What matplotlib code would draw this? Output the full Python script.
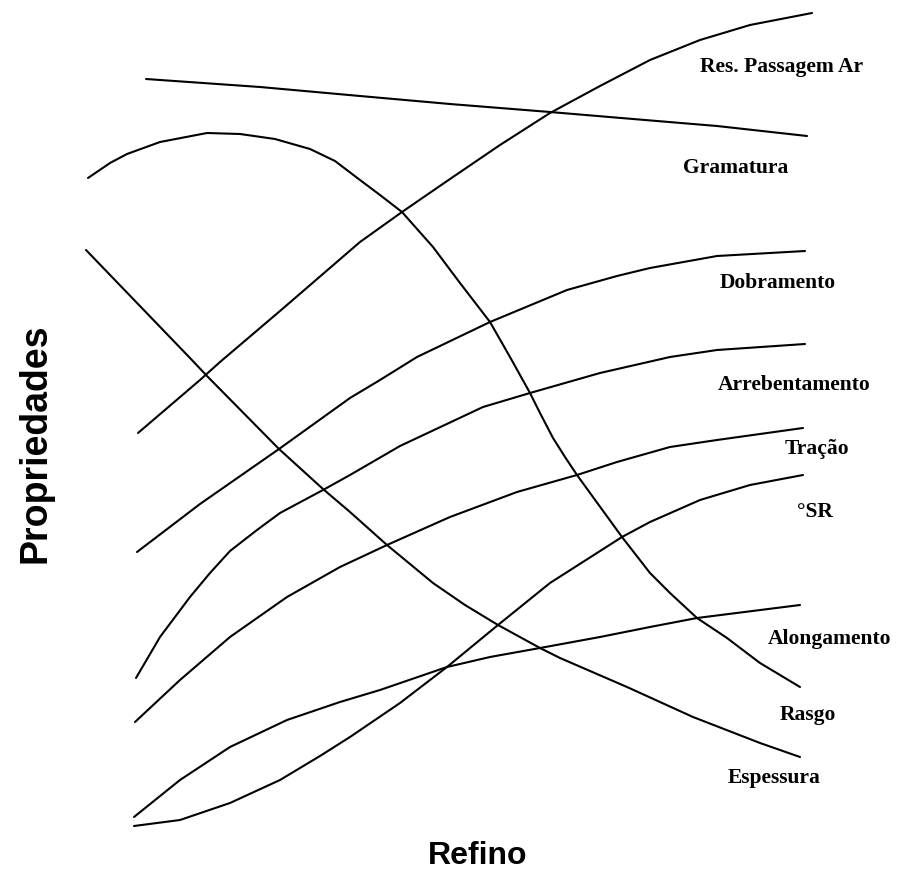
"""
Propriedades x Refino - schematic curves, values read off the original figure.
"""
import matplotlib
matplotlib.use('Agg')
import matplotlib.pyplot as plt

# x = refino, y = propriedade (read in figure units, y grows downward)
res_ar_x = [138, 200, 220, 280, 360, 402, 450, 500, 550, 600, 650, 700, 750, 812]
res_ar_y = [433, 380, 362, 311, 242, 212, 179, 145, 113, 86, 60, 40, 25, 13]

gramatura_x = [146, 260, 360, 450, 550, 633, 717, 807]
gramatura_y = [79, 87, 96, 104, 112, 119, 126, 136]

rasgo_x = [88, 110, 127, 160, 207, 240, 275, 310, 335, 360, 380, 402, 433, 460, 490,
           510, 530, 540, 553, 565, 577, 622, 650, 670, 697, 727, 760, 800]
rasgo_y = [178, 163, 154, 142, 133, 134, 139, 149, 161, 180, 195, 212, 247, 283, 322,
           357, 393, 413, 438, 457, 475, 537, 573, 593, 618, 638, 663, 687]

espessura_x = [86, 190, 207, 279, 323, 350, 387, 433, 465, 498, 540, 560, 627, 693,
               760, 800]
espessura_y = [250, 358, 376, 449, 489, 512, 545, 583, 605, 625, 648, 658, 687, 717,
               743, 757]

dobramento_x = [137, 200, 279, 350, 380, 417, 490, 567, 617, 650, 717, 805]
dobramento_y = [552, 504, 449, 398, 380, 357, 322, 290, 276, 268, 256, 251]

arrebent_x = [136, 160, 190, 210, 230, 257, 280, 323, 350, 400, 483, 530, 600, 670,
              717, 805]
arrebent_y = [678, 637, 597, 573, 551, 530, 513, 490, 475, 446, 407, 393, 373, 357,
              350, 344]

tracao_x = [135, 180, 230, 287, 340, 387, 450, 517, 577, 617, 670, 717, 803]
tracao_y = [722, 680, 637, 597, 567, 545, 517, 492, 475, 462, 447, 440, 428]

sr_x = [134, 180, 230, 280, 320, 350, 400, 447, 498, 550, 622, 650, 700, 750, 803]
sr_y = [826, 820, 803, 780, 756, 737, 703, 667, 625, 583, 537, 522, 500, 485, 475]

along_x = [134, 180, 230, 287, 340, 380, 447, 490, 540, 600, 650, 697, 800]
along_y = [817, 780, 747, 720, 702, 690, 667, 657, 648, 637, 627, 618, 605]

curves = [
    (res_ar_x, res_ar_y), (gramatura_x, gramatura_y), (rasgo_x, rasgo_y),
    (espessura_x, espessura_y), (dobramento_x, dobramento_y),
    (arrebent_x, arrebent_y), (tracao_x, tracao_y), (sr_x, sr_y),
    (along_x, along_y),
]

labels = ['Res. Passagem Ar', 'Gramatura', 'Dobramento', 'Arrebentamento',
          'Tração', '°SR', 'Alongamento', 'Rasgo', 'Espessura']
label_x = [700, 683, 720, 718, 785, 797, 768, 780, 728]
label_y = [67, 168, 283, 385, 449, 512, 639, 715, 778]

fig = plt.figure(figsize=(8.97, 8.75), dpi=100)
ax = fig.add_axes([0, 0, 1, 1])
ax.set_xlim(0, 897)
ax.set_ylim(875, 0)
ax.axis('off')

for cx, cy in curves:
    ax.plot(cx, cy, color='black', linewidth=1.5, solid_capstyle='round',
            solid_joinstyle='round')

for txt, lx, ly in zip(labels, label_x, label_y):
    ax.text(lx, ly, txt, ha='left', va='center', fontsize=15.5,
            fontweight='bold', family='Liberation Serif')

ax.text(478, 856, 'Refino', ha='center', va='center', fontsize=23,
        fontweight='bold', family='Liberation Sans')
ax.text(36, 443, 'Propriedades', ha='center', va='center', rotation=90,
        fontsize=27, fontweight='bold', family='Liberation Sans')

fig.savefig('out.png', dpi=100, facecolor='white')
